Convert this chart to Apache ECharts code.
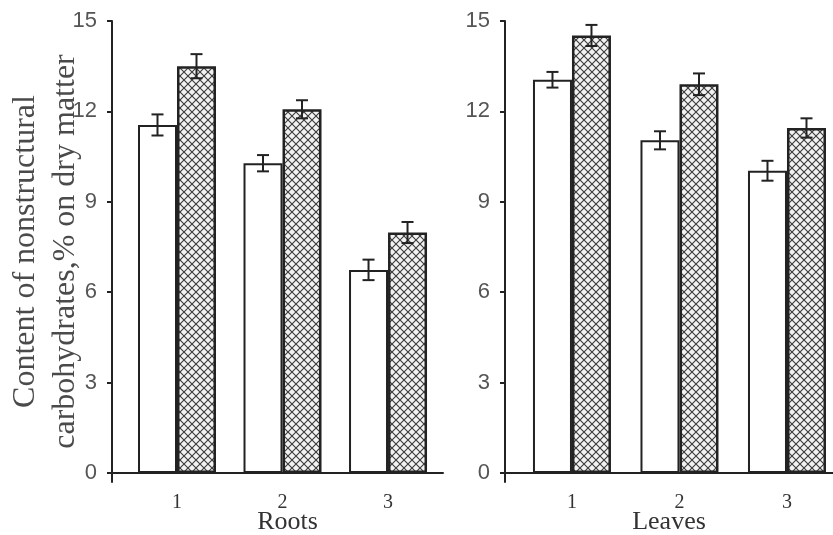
<!DOCTYPE html>
<html>
<head>
<meta charset="utf-8">
<script src="https://cdn.jsdelivr.net/npm/echarts@6/dist/echarts.min.js"></script>
<style>
  html, body { margin: 0; padding: 0; background: #fff; }
  #chart { width: 833px; height: 535px; }
</style>
</head>
<body>
<div id="chart"></div>
<script>
// data
const groups = [1, 2, 3];
const yTicks = [0, 3, 6, 9, 12, 15];

const rootsPlain = [11.55, 10.28, 6.74];
const rootsPlainErr = [0.35, 0.27, 0.34];
const rootsHatch = [13.5, 12.07, 7.98];
const rootsHatchErr = [0.4, 0.3, 0.35];

const leavesPlain = [13.05, 11.04, 10.03];
const leavesPlainErr = [0.26, 0.3, 0.33];
const leavesHatch = [14.52, 12.9, 11.45];
const leavesHatchErr = [0.35, 0.36, 0.32];

const BAR_W = 39;
const INK = '#222';

// crosshatch tile
function makeHatch() {
    const c = document.createElement('canvas');
    c.width = 8; c.height = 8;
    const ctx = c.getContext('2d');
    ctx.fillStyle = '#f2f2f2';
    ctx.fillRect(0, 0, 8, 8);
    ctx.strokeStyle = '#3a3a3a';
    ctx.lineWidth = 1.1;
    ctx.beginPath();
    ctx.moveTo(-1, -1); ctx.lineTo(9, 9);
    ctx.moveTo(-1, 9); ctx.lineTo(9, -1);
    ctx.stroke();
    return c;
}
const hatch = { image: makeHatch(), repeat: 'repeat' };

function pairs(vals) {
    return groups.map((g, i) => [g, vals[i]]);
}

function barSeries(idx, vals, hatched) {
    return {
        type: 'bar',
        xAxisIndex: idx,
        yAxisIndex: idx,
        data: pairs(vals),
        barWidth: BAR_W,
        barGap: '0%',
        itemStyle: {
            color: hatched ? hatch : '#fff',
            borderColor: INK,
            borderWidth: hatched ? 2.5 : 2
        }
    };
}

// error bars, side = -1 for left bar, +1 for right bar of a pair
function errSeries(idx, vals, errs, side) {
    return {
        type: 'custom',
        xAxisIndex: idx,
        yAxisIndex: idx,
        z: 5,
        data: groups.map((g, i) => [g, vals[i], errs[i]]),
        renderItem: function (params, api) {
            const x = api.value(0), y = api.value(1), e = api.value(2);
            const hi = api.coord([x, y + e]);
            const lo = api.coord([x, y - e]);
            const cx = hi[0] + side * BAR_W / 2;
            const style = { stroke: INK, lineWidth: 2 };
            return {
                type: 'group',
                children: [
                    { type: 'line', shape: { x1: cx, y1: hi[1], x2: cx, y2: lo[1] }, style: style },
                    { type: 'line', shape: { x1: cx - 6, y1: hi[1], x2: cx + 6, y2: hi[1] }, style: style },
                    { type: 'line', shape: { x1: cx - 6, y1: lo[1], x2: cx + 6, y2: lo[1] }, style: style }
                ]
            };
        }
    };
}

function xAxisOf(idx, min, max, name, pad) {
    return {
        type: 'value',
        gridIndex: idx,
        min: min,
        max: max,
        name: name,
        nameLocation: 'middle',
        nameGap: 27,
        nameMoveOverlap: false,
        nameTextStyle: {
            fontFamily: 'Liberation Serif', fontSize: 26, color: '#333',
            padding: pad
        },
        axisLine: { onZero: true, lineStyle: { color: INK, width: 2 } },
        axisTick: { show: false },
        splitLine: { show: false },
        axisLabel: {
            customValues: groups,
            margin: 11,
            fontFamily: 'Liberation Serif', fontSize: 20, color: '#333'
        }
    };
}

function yAxisOf(idx, name) {
    return {
        type: 'value',
        gridIndex: idx,
        min: -0.3,
        max: 15,
        name: name,
        nameLocation: 'middle',
        nameGap: 26,
        nameMoveOverlap: false,
        nameTextStyle: {
            fontFamily: 'Liberation Serif', fontSize: 32, color: '#4a4a4a',
            lineHeight: 40
        },
        axisLine: { lineStyle: { color: INK, width: 2 } },
        axisTick: { customValues: yTicks, length: 5, lineStyle: { color: INK, width: 2 } },
        splitLine: { show: false },
        axisLabel: {
            customValues: yTicks,
            margin: 15,
            fontFamily: 'Liberation Sans Narrow, Liberation Sans',
            fontSize: 22,
            color: '#555'
        }
    };
}

const chart = echarts.init(document.getElementById('chart'));
chart.setOption({
    animation: false,
    backgroundColor: '#fff',
    grid: [
        { left: 112, top: 21, width: 331, height: 461, outerBoundsMode: 'none' },
        { left: 505, top: 21, width: 328, height: 461, outerBoundsMode: 'none' }
    ],
    xAxis: [
        xAxisOf(0, 0.384, 3.521, 'Roots', [0, 0, 0, 20]),
        xAxisOf(1, 0.377, 3.428, 'Leaves', [0, 0, 0, 0])
    ],
    yAxis: [
        yAxisOf(0, 'Content of nonstructural\ncarbohydrates,% on dry matter'),
        yAxisOf(1, '')
    ],
    series: [
        barSeries(0, rootsPlain, false),
        barSeries(0, rootsHatch, true),
        errSeries(0, rootsPlain, rootsPlainErr, -1),
        errSeries(0, rootsHatch, rootsHatchErr, 1),
        barSeries(1, leavesPlain, false),
        barSeries(1, leavesHatch, true),
        errSeries(1, leavesPlain, leavesPlainErr, -1),
        errSeries(1, leavesHatch, leavesHatchErr, 1)
    ]
});
</script>
</body>
</html>
